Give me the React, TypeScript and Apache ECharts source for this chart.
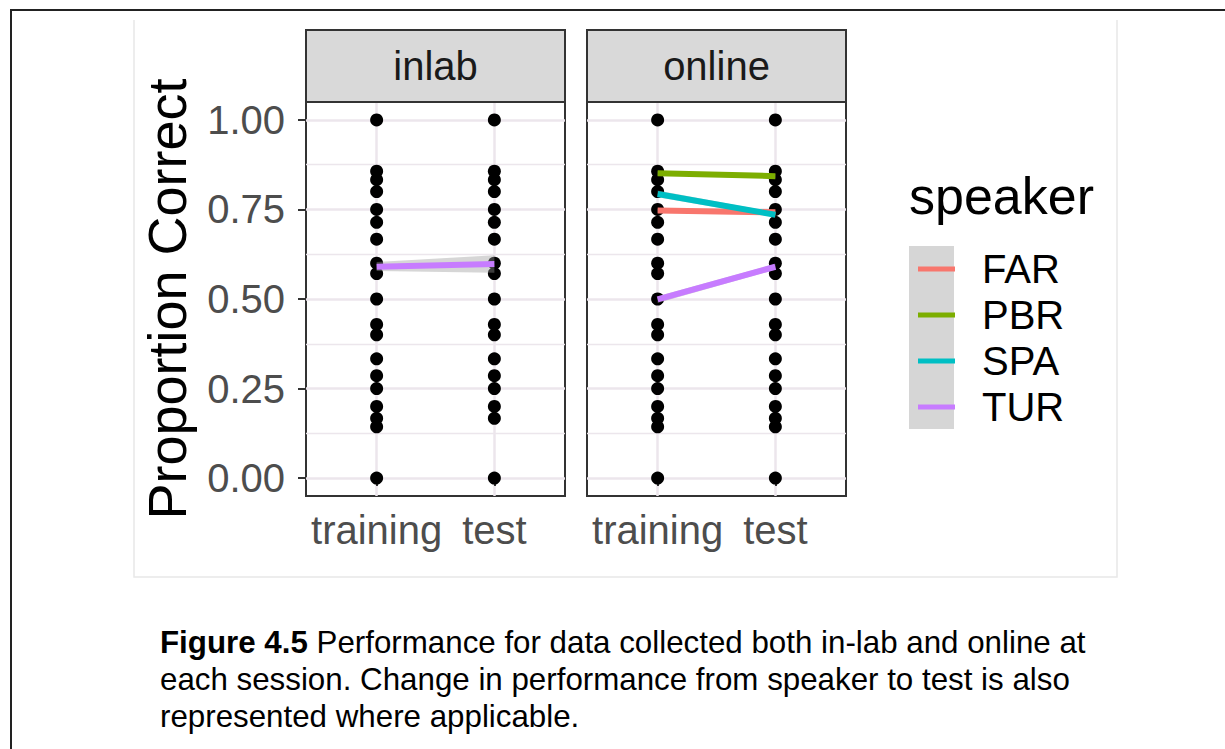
import React, { useEffect, useRef } from "react";
import * as echarts from "echarts";

// Sessions on the x axis (positions 1 and 2)
const SESSIONS = ["training", "test"];
const SESSION_POS = [1, 2];

// y axis breaks
const Y_MAJOR = [0, 0.25, 0.5, 0.75, 1];
const Y_MINOR = [0.125, 0.375, 0.625, 0.875];

// Observed proportion-correct values per panel and session
const inlabTraining = [0, 0.143, 0.167, 0.2, 0.25, 0.286, 0.333, 0.4, 0.429, 0.5, 0.571, 0.6, 0.667, 0.714, 0.75, 0.8, 0.833, 0.857, 1];
const inlabTest = [0, 0.167, 0.2, 0.25, 0.286, 0.333, 0.4, 0.429, 0.5, 0.571, 0.6, 0.667, 0.714, 0.75, 0.8, 0.833, 0.857, 1];
const onlineTraining = [0, 0.143, 0.167, 0.2, 0.25, 0.286, 0.333, 0.4, 0.429, 0.5, 0.571, 0.6, 0.667, 0.714, 0.75, 0.8, 0.833, 0.857, 1];
const onlineTest = [0, 0.143, 0.167, 0.2, 0.25, 0.286, 0.333, 0.4, 0.429, 0.5, 0.571, 0.6, 0.667, 0.714, 0.75, 0.8, 0.833, 0.857, 1];

// Speakers and their colours
const SPEAKERS = ["FAR", "PBR", "SPA", "TUR"];
const SPEAKER_COLORS = ["#F8766D", "#7CAE00", "#00BFC4", "#C77CFF"];

// Fitted change lines [training, test] and their bands [lower, upper]
const inlabTUR = [0.59, 0.598];
const inlabTURLow = [0.578, 0.573];
const inlabTURHigh = [0.603, 0.622];

const onlineFAR = [0.747, 0.742];
const onlineFARLow = [0.741, 0.736];
const onlineFARHigh = [0.753, 0.748];

const onlinePBR = [0.851, 0.843];
const onlinePBRLow = [0.845, 0.837];
const onlinePBRHigh = [0.857, 0.849];

const onlineSPA = [0.793, 0.735];
const onlineSPALow = [0.784, 0.728];
const onlineSPAHigh = [0.803, 0.742];

const onlineTUR = [0.499, 0.59];
const onlineTURLow = [0.489, 0.582];
const onlineTURHigh = [0.508, 0.598];

const PANELS = ["inlab", "online"];

const FONT = "'Liberation Sans', Arial, Helvetica, sans-serif";

// Panel geometry
const PANEL_LEFT = [306, 587];
const PANEL_WIDTH = 259;
const PANEL_TOP = 102;
const PANEL_HEIGHT = 394;
const STRIP_TOP = 30;

const GRID_COLOR = "#ECE6EC";

function pts(values: number[], x: number) {
  return values.map((v) => [x, v]);
}

export default function App() {
  const ref = useRef<HTMLDivElement>(null);

  useEffect(() => {
    if (!ref.current) return;
    const chart = echarts.init(ref.current, null, { renderer: "svg" });

    const grids = PANEL_LEFT.map((left) => ({
      left,
      top: PANEL_TOP,
      width: PANEL_WIDTH,
      height: PANEL_HEIGHT,
      show: true,
      borderColor: "#333333",
      borderWidth: 2,
      backgroundColor: "transparent",
    }));

    const xAxes = [0, 1].map((g) => ({
      type: "value",
      gridIndex: g,
      min: 0.4,
      max: 2.6,
      axisLine: { show: false },
      axisTick: {
        show: true,
        customValues: SESSION_POS,
        length: 8,
        lineStyle: { color: "#333333", width: 2 },
      },
      axisLabel: {
        customValues: SESSION_POS,
        formatter: (v: number) => SESSIONS[Math.round(v) - 1] ?? "",
        color: "#4D4D4D",
        fontSize: 40,
        fontFamily: FONT,
        margin: 14,
      },
      splitLine: { show: true, lineStyle: { color: GRID_COLOR, width: 2.5 } },
    }));

    const yAxes: any[] = [];
    [0, 1].forEach((g) => {
      yAxes.push({
        type: "value",
        gridIndex: g,
        min: -0.05,
        max: 1.05,
        position: "left",
        axisLine: { show: false },
        axisTick: {
          show: g === 0,
          customValues: Y_MAJOR,
          length: 8,
          lineStyle: { color: "#333333", width: 2 },
        },
        axisLabel: {
          show: g === 0,
          customValues: Y_MAJOR,
          formatter: (v: number) => v.toFixed(2),
          color: "#4D4D4D",
          fontSize: 40,
          fontFamily: FONT,
          margin: 21,
        },
        splitLine: { show: true, lineStyle: { color: GRID_COLOR, width: 2.5 } },
        name: g === 0 ? "Proportion Correct" : "",
        nameLocation: "middle",
        nameGap: 112,
        nameTextStyle: { color: "#000000", fontSize: 54, fontFamily: FONT },
      });
      yAxes.push({
        type: "value",
        gridIndex: g,
        min: -0.05,
        max: 1.05,
        position: "left",
        axisLine: { show: false },
        axisTick: { show: false, customValues: Y_MINOR },
        axisLabel: { show: false, customValues: Y_MINOR },
        splitLine: { show: true, lineStyle: { color: GRID_COLOR, width: 1.3 } },
      });
    });

    const scatter = (data: number[][], g: number) => ({
      type: "scatter",
      xAxisIndex: g,
      yAxisIndex: g * 2,
      data,
      symbol: "circle",
      symbolSize: 13,
      itemStyle: { color: "#000000", opacity: 1 },
      z: 3,
      silent: true,
    });

    const ribbon = (low: number[], high: number[], g: number) => ({
      type: "custom",
      xAxisIndex: g,
      yAxisIndex: g * 2,
      data: [[SESSION_POS[0], low[0], high[0], SESSION_POS[1], low[1], high[1]]],
      renderItem: (_p: any, api: any) => {
        const a = api.coord([api.value(0), api.value(1)]);
        const b = api.coord([api.value(0), api.value(2)]);
        const c = api.coord([api.value(3), api.value(5)]);
        const d = api.coord([api.value(3), api.value(4)]);
        return {
          type: "polygon",
          shape: { points: [a, b, c, d] },
          style: { fill: "rgba(153,153,153,0.4)" },
        };
      },
      z: 4,
      silent: true,
    });

    const line = (name: string, vals: number[], g: number) => {
      const color = SPEAKER_COLORS[SPEAKERS.indexOf(name)];
      return {
        type: "line",
        name,
        xAxisIndex: g,
        yAxisIndex: g * 2,
        data: SESSION_POS.map((x, i) => [x, vals[i]]),
        showSymbol: false,
        symbol: "none",
        color,
        lineStyle: { color, width: 6 },
        z: 5,
        silent: true,
      };
    };

    const series: any[] = [
      scatter(pts(inlabTraining, 1), 0),
      scatter(pts(inlabTest, 2), 0),
      scatter(pts(onlineTraining, 1), 1),
      scatter(pts(onlineTest, 2), 1),
      ribbon(inlabTURLow, inlabTURHigh, 0),
      ribbon(onlineFARLow, onlineFARHigh, 1),
      ribbon(onlinePBRLow, onlinePBRHigh, 1),
      ribbon(onlineSPALow, onlineSPAHigh, 1),
      ribbon(onlineTURLow, onlineTURHigh, 1),
      line("TUR", inlabTUR, 0),
      line("FAR", onlineFAR, 1),
      line("PBR", onlinePBR, 1),
      line("SPA", onlineSPA, 1),
      line("TUR", onlineTUR, 1),
    ];

    const strips: any[] = [];
    PANELS.forEach((label, i) => {
      strips.push({
        type: "rect",
        shape: { x: PANEL_LEFT[i], y: STRIP_TOP, width: PANEL_WIDTH, height: PANEL_TOP - STRIP_TOP },
        style: { fill: "#D9D9D9", stroke: "#333333", lineWidth: 2 },
        z: 2,
      });
      strips.push({
        type: "text",
        x: PANEL_LEFT[i] + PANEL_WIDTH / 2,
        y: (STRIP_TOP + PANEL_TOP) / 2,
        style: {
          text: label,
          fill: "#1A1A1A",
          fontSize: 40,
          fontFamily: FONT,
          align: "center",
          verticalAlign: "middle",
        },
        z: 3,
      });
    });

    chart.setOption({
      animation: false,
      backgroundColor: "#ffffff",
      grid: grids,
      xAxis: xAxes,
      yAxis: yAxes,
      series,
      legend: {
        data: SPEAKERS,
        orient: "vertical",
        left: 913,
        top: 244,
        icon: "rect",
        itemWidth: 37,
        itemHeight: 5,
        itemGap: 6,
        selectedMode: false,
        textStyle: {
          color: "#000000",
          fontSize: 40,
          fontFamily: FONT,
          lineHeight: 40,
          padding: [0, 0, 0, 22],
        },
      },
      graphic: [
        // outer page frame
        {
          type: "rect",
          shape: { x: 11, y: 10, width: 1400, height: 900 },
          style: { fill: "none", stroke: "#222222", lineWidth: 2 },
          z: 0,
        },
        // figure image edge
        {
          type: "polyline",
          shape: { points: [[134, 20], [134, 577], [1117, 577], [1117, 20]] },
          style: { fill: "none", stroke: "#E8E8E8", lineWidth: 1.5 },
          z: 0,
        },
        ...strips,
        // legend key background
        {
          type: "rect",
          shape: { x: 909, y: 246, width: 45, height: 183 },
          style: { fill: "#D6D6D6" },
          z: 0,
        },
        {
          type: "text",
          x: 909,
          y: 196,
          style: {
            text: "speaker",
            fill: "#000000",
            fontSize: 52,
            fontFamily: FONT,
            align: "left",
            verticalAlign: "middle",
          },
        },
        {
          type: "text",
          x: 160,
          y: 624,
          style: {
            text:
              "{b|Figure 4.5} Performance for data collected both in-lab and online at\neach session. Change in performance from speaker to test is also\nrepresented where applicable.",
            fill: "#000000",
            fontSize: 31.3,
            fontFamily: FONT,
            lineHeight: 37,
            align: "left",
            verticalAlign: "top",
            rich: {
              b: { fontWeight: "bold", fontSize: 31.3, fontFamily: FONT, lineHeight: 37, fill: "#000000" },
            },
          },
        },
      ],
    });

    return () => chart.dispose();
  }, []);

  return (
    <div
      ref={ref}
      style={{ position: "absolute", left: 0, top: 0, width: 1225, height: 749 }}
    />
  );
}
